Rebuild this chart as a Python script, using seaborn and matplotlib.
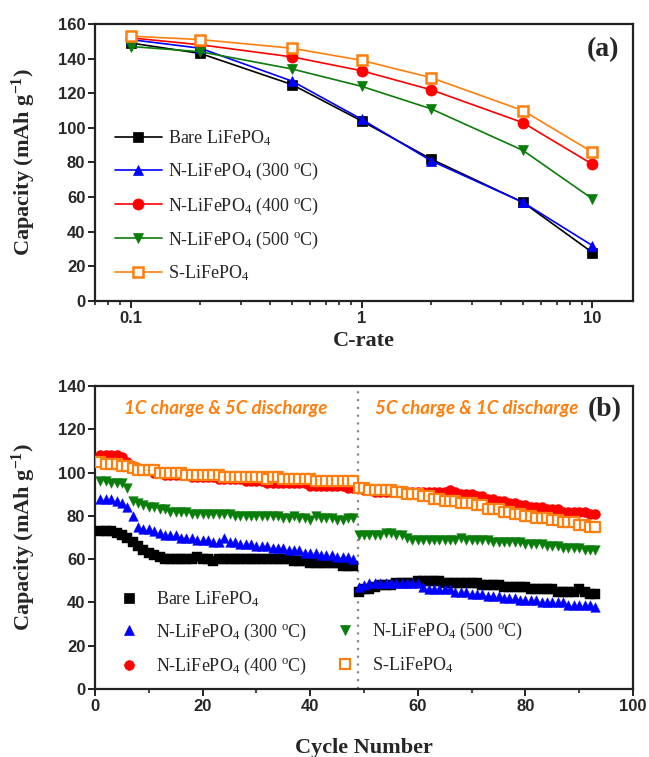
import seaborn as sns
import matplotlib.pyplot as plt
from matplotlib.lines import Line2D
from matplotlib.ticker import MultipleLocator, NullFormatter, FixedLocator

# ---- panel (a): rate capability ----
c_rate = [0.1, 0.2, 0.5, 1, 2, 5, 10]
rate_bare = [149, 143, 125, 104, 82, 57, 28]
rate_n300 = [151, 146, 127, 105, 81, 57, 32]
rate_n400 = [152, 148, 141, 133, 122, 103, 79]
rate_n500 = [147, 144, 134, 124, 111, 87, 59]
rate_s = [153, 151, 146, 139, 129, 110, 86]

# ---- panel (b): cycling ----
cycles = list(range(1, 94))
cyc_bare = [73, 73, 73, 72, 71, 70, 68, 66, 64, 63, 62, 61,
            60, 60, 60, 60, 60, 60, 61, 60, 60, 59, 60, 60,
            60, 60, 60, 60, 60, 60, 60, 60, 60, 60, 60, 60,
            59, 59, 59, 58, 58, 58, 58, 58, 58, 57, 57, 57,
            45, 46, 46, 47, 48, 48, 48, 49, 49, 49, 49, 50,
            50, 50, 50, 50, 49, 49, 49, 49, 49, 49, 49, 48,
            48, 48, 48, 47, 47, 47, 47, 47, 46, 46, 46, 46,
            46, 45, 45, 45, 45, 46, 45, 44, 44]
cyc_n300 = [88, 88, 88, 87, 86, 84, 80, 75, 74, 74, 73, 72,
            71, 71, 71, 70, 70, 70, 69, 69, 69, 68, 68, 70,
            68, 68, 67, 67, 67, 66, 66, 66, 65, 65, 65, 64,
            64, 64, 63, 63, 63, 62, 62, 62, 61, 61, 61, 60,
            47, 48, 49, 49, 49, 49, 49, 49, 49, 49, 49, 49,
            47, 46, 46, 46, 46, 46, 45, 45, 45, 44, 44, 44,
            43, 43, 43, 42, 42, 42, 41, 41, 41, 41, 40, 40,
            40, 40, 40, 39, 39, 39, 39, 39, 38]
cyc_n400 = [108, 108, 108, 108, 107, 105, 103, 102, 101, 101, 100, 100,
            99, 99, 99, 99, 99, 98, 98, 98, 98, 98, 97, 97,
            97, 97, 97, 96, 96, 96, 96, 95, 95, 95, 95, 95,
            95, 95, 95, 94, 94, 94, 94, 94, 94, 94, 93, 93,
            93, 92, 92, 91, 91, 91, 91, 91, 91, 91, 91, 91,
            91, 91, 91, 91, 91, 92, 91, 90, 90, 90, 89, 89,
            88, 88, 87, 87, 86, 86, 85, 85, 84, 84, 84, 83,
            83, 83, 82, 82, 82, 82, 82, 81, 81]
cyc_n500 = [96, 96, 95, 95, 95, 93, 87, 86, 85, 84, 84, 83,
            83, 82, 82, 82, 82, 81, 81, 81, 81, 81, 81, 81,
            81, 80, 80, 80, 80, 80, 80, 80, 80, 80, 79, 79,
            80, 79, 79, 78, 80, 79, 79, 79, 78, 78, 79, 79,
            71, 71, 71, 71, 71, 72, 72, 71, 71, 70, 69, 69,
            69, 69, 69, 69, 69, 69, 69, 70, 69, 69, 69, 69,
            69, 68, 68, 68, 68, 68, 68, 67, 67, 67, 67, 66,
            66, 66, 65, 65, 65, 65, 64, 64, 64]
cyc_s = [105, 104, 104, 104, 103, 103, 102, 101, 101, 101, 101, 100,
         100, 100, 100, 100, 99, 99, 99, 99, 99, 99, 99, 98,
         98, 98, 98, 98, 98, 98, 98, 97, 98, 98, 97, 97,
         97, 97, 97, 97, 96, 96, 96, 96, 96, 96, 96, 96,
         93, 93, 92, 92, 92, 92, 92, 91, 91, 90, 90, 90,
         89, 89, 88, 88, 87, 87, 87, 86, 86, 86, 85, 85,
         83, 83, 83, 82, 82, 81, 81, 80, 80, 79, 79, 79,
         78, 78, 77, 77, 77, 76, 76, 75, 75]

labels = ['Bare LiFePO$_4$',
          'N-LiFePO$_4$ (300 $^{\\rm o}$C)',
          'N-LiFePO$_4$ (400 $^{\\rm o}$C)',
          'N-LiFePO$_4$ (500 $^{\\rm o}$C)',
          'S-LiFePO$_4$']
colors = ['#000000', '#0000ff', '#ff0000', '#0a7d0a', '#ff7f0e']
markers = ['s', '^', 'o', 'v', 's']
rate_data = [rate_bare, rate_n300, rate_n400, rate_n500, rate_s]
cyc_data = [cyc_bare, cyc_n300, cyc_n400, cyc_n500, cyc_s]

sns.set_style('ticks')
plt.rcParams['font.family'] = ['Liberation Serif', 'DejaVu Serif']
plt.rcParams['mathtext.fontset'] = 'custom'
plt.rcParams['mathtext.rm'] = 'Liberation Serif'
plt.rcParams['mathtext.it'] = 'Liberation Serif:italic'
plt.rcParams['mathtext.bf'] = 'Liberation Serif:bold'

fig = plt.figure(figsize=(6.49, 7.57), dpi=100)
ax1 = fig.add_axes([0.1464, 0.6024, 0.829, 0.3659])
ax2 = fig.add_axes([0.1464, 0.0898, 0.829, 0.4003])

tick_font = {'family': 'Liberation Sans', 'weight': 'bold', 'size': 12}
label_font = {'family': 'Liberation Serif', 'weight': 'bold', 'size': 16}
leg_prop = {'family': 'Liberation Serif', 'size': 13}

# panel (a)
for i in range(5):
    open_m = i == 4
    sns.lineplot(x=c_rate, y=rate_data[i], ax=ax1, color=colors[i],
                 marker=markers[i], markersize=7.5 if i != 2 else 8,
                 markerfacecolor='white' if open_m else colors[i],
                 markeredgecolor=colors[i], markeredgewidth=1.8 if open_m else 0.5,
                 linewidth=1.2, label=labels[i], zorder=3 + i)
ax1.set_xscale('log')
ax1.set_xlim(0.07, 15)
ax1.set_ylim(0, 160)
ax1.yaxis.set_major_locator(MultipleLocator(20))
ax1.xaxis.set_major_locator(FixedLocator([0.1, 1, 10]))
ax1.set_xticklabels(['0.1', '1', '10'])
ax1.xaxis.set_minor_formatter(NullFormatter())
ax1.set_xlabel('C-rate', fontdict=label_font)
ax1.set_ylabel('Capacity (mAh g$^{\\mathbf{-1}}$)', fontdict=label_font)
ax1.xaxis.set_label_coords(0.5, -0.11)
ax1.yaxis.set_label_coords(-0.106, 0.5)
ax1.text(0.945, 0.906, '(a)', transform=ax1.transAxes, ha='center', va='center',
         fontsize=20, fontweight='bold', family='Liberation Serif')
ax1.legend(loc='upper left', bbox_to_anchor=(0.02, 0.655), frameon=False,
           prop=leg_prop, handlelength=2.6,
           handletextpad=0.35, labelspacing=0.72, borderpad=0)

# panel (b)
for i in range(5):
    open_m = i == 4
    sns.scatterplot(x=cycles, y=cyc_data[i], ax=ax2, marker=markers[i],
                    s=48 if i != 2 else 52,
                    color='white' if open_m else colors[i],
                    edgecolor=colors[i], linewidth=1.6 if open_m else 0.3,
                    zorder=3 + i)
ax2.axvline(48.8, color='#888888', linestyle=(0, (1, 2.5)), linewidth=1.6, zorder=2)
ax2.set_xlim(0, 100)
ax2.set_ylim(0, 140)
ax2.xaxis.set_major_locator(MultipleLocator(20))
ax2.xaxis.set_minor_locator(MultipleLocator(10))
ax2.yaxis.set_major_locator(MultipleLocator(20))
ax2.set_xlabel('Cycle Number', fontdict=label_font)
ax2.set_ylabel('Capacity (mAh g$^{\\mathbf{-1}}$)', fontdict=label_font)
ax2.xaxis.set_label_coords(0.5, -0.16)
ax2.yaxis.set_label_coords(-0.106, 0.5)
ax2.text(0.2435, 0.927, '1C charge & 5C discharge', transform=ax2.transAxes,
         ha='center', va='center', color='#ff7f0e', fontsize=13.5,
         fontweight='bold', style='italic', family='Lato')
ax2.text(0.709, 0.927, '5C charge & 1C discharge', transform=ax2.transAxes,
         ha='center', va='center', color='#ff7f0e', fontsize=13.5,
         fontweight='bold', style='italic', family='Lato')
ax2.text(0.948, 0.921, '(b)', transform=ax2.transAxes, ha='center', va='center',
         fontsize=20, fontweight='bold', family='Liberation Serif')

handles = []
for i in range(5):
    open_m = i == 4
    handles.append(Line2D([], [], linestyle='none', marker=markers[i],
                          markersize=7, color=colors[i],
                          markerfacecolor='white' if open_m else colors[i],
                          markeredgewidth=1.6 if open_m else 0.5))
blank = Line2D([], [], linestyle='none')
ax2.legend(handles[:3] + [blank] + handles[3:], labels[:3] + [''] + labels[3:],
           ncol=2, loc='upper left', bbox_to_anchor=(0.03, 0.36), frameon=False,
           prop=leg_prop, handlelength=1.0,
           handletextpad=1.0, labelspacing=0.72, columnspacing=1.6, borderpad=0)

for ax in (ax1, ax2):
    for sp in ax.spines.values():
        sp.set_linewidth(1.6)
        sp.set_color('#222222')
    ax.tick_params(which='major', direction='out', length=5, width=1.4,
                   color='#222222', pad=2)
    ax.tick_params(which='minor', direction='out', length=3, width=1.2, color='#222222')
    for t in ax.get_xticklabels() + ax.get_yticklabels():
        t.set_fontproperties(tick_font)

fig.savefig('out.png', dpi=100)
